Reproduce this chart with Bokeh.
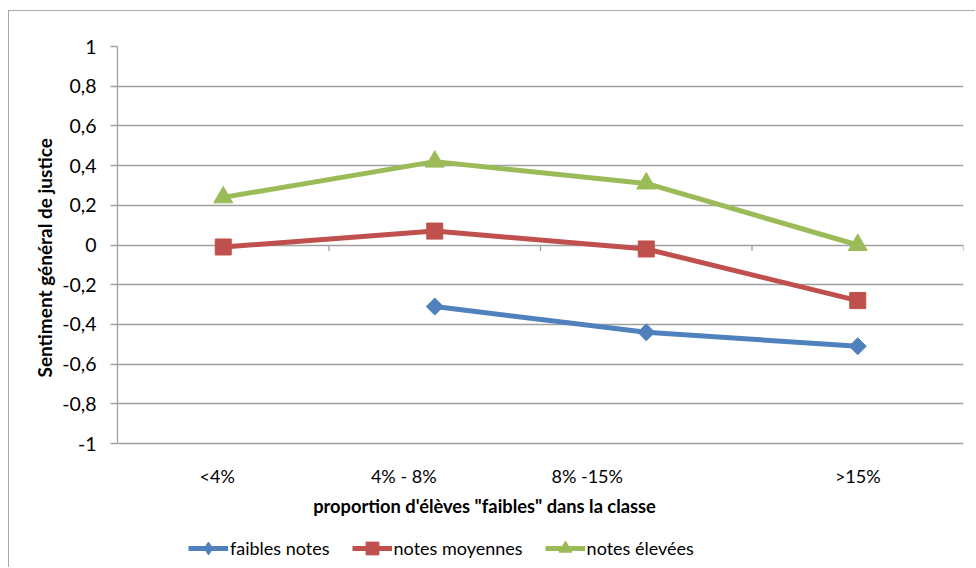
import math
from bokeh.plotting import figure
from bokeh.models import (Range1d, FixedTicker, Legend, LegendItem, LabelSet, Label,
                          ColumnDataSource, Title)
from bokeh.core.properties import value
from bokeh.embed import file_html
from bokeh.resources import INLINE

categories = ["<4%", "4% - 8%", "8% -15%", ">15%"]
faibles_notes = [float("nan"), -0.31, -0.44, -0.51]
notes_moyennes = [-0.01, 0.07, -0.02, -0.28]
notes_elevees = [0.24, 0.42, 0.31, 0.0]
y_ticks = [-1, -0.8, -0.6, -0.4, -0.2, 0, 0.2, 0.4, 0.6, 0.8, 1]
y_tick_labels = ["-1", "-0,8", "-0,6", "-0,4", "-0,2", "0", "0,2", "0,4", "0,6", "0,8", "1"]

FONT = "Lato"
GRAY = "#a0a0a0"
BLUE, RED, GREEN = "#4f81bd", "#c0504d", "#9bbb59"
FS = "19.5px"

# layout (pixels)
W, H = 967, 557
MB_LEFT, MB_TOP, MB_RIGHT = 108, 35, 13
VALUE_SPAN_PX = 397           # pixel height of the -1..1 value band
frame_h = H - MB_TOP
y_min, y_max = -1, 1
px_per_unit = VALUE_SPAN_PX / (y_max - y_min)
y_start = y_max - frame_h / px_per_unit

n = len(categories)
xs = [i + 0.5 for i in range(n)]

p = figure(width=W, height=H, output_backend="svg", toolbar_location=None,
           x_range=Range1d(0, n), y_range=Range1d(y_start, y_max),
           min_border_left=MB_LEFT, min_border_right=MB_RIGHT, min_border_top=MB_TOP,
           min_border_bottom=0,
           styles={"margin-left": "8px", "margin-top": "10px",
                   "border-left": "1px solid #a8a8a8", "border-top": "1px solid #a8a8a8"})
p.outline_line_color = None
p.xaxis.visible = False
p.xgrid.visible = False

p.yaxis.bounds = (y_min, y_max)
p.yaxis.ticker = FixedTicker(ticks=y_ticks)
p.yaxis.major_label_overrides = {t: l for t, l in zip(y_ticks, y_tick_labels)}
p.yaxis.major_tick_out = 7
p.yaxis.major_tick_in = 0
p.yaxis.minor_tick_line_color = None
p.yaxis.axis_line_color = GRAY
p.yaxis.axis_line_width = 1.3
p.yaxis.major_tick_line_color = GRAY
p.yaxis.major_tick_line_width = 1.3
p.yaxis.major_label_text_font = FONT
p.yaxis.major_label_text_font_size = FS
p.yaxis.major_label_text_color = "#000000"
p.yaxis.major_label_standoff = 14

# y-axis title, placed from the bottom of the value band
p.add_layout(Title(text="Sentiment général de justice", align="left", offset=191,
                   text_font=FONT, text_font_style="bold", text_font_size="19px",
                   text_color="#000000", standoff=7), "left")

p.ygrid.ticker = FixedTicker(ticks=y_ticks)
p.ygrid.grid_line_color = GRAY
p.ygrid.grid_line_width = 1.3

# category-boundary ticks on the zero line
bx = list(range(1, n + 1))
p.segment(x0=bx, y0=[0] * n, x1=bx, y1=[-6 / px_per_unit] * n, line_color=GRAY, line_width=1.3)

r_b_line = p.line(xs, faibles_notes, line_color=BLUE, line_width=5)
r_b_pt = p.scatter(xs, faibles_notes, marker="square", angle=math.pi / 4, size=12,
                   fill_color=BLUE, line_color=BLUE)
# legend-only diamond (no visible points)
r_b_leg = p.scatter(xs, [float("nan")] * n, marker="diamond", size=18,
                    fill_color=BLUE, line_color=BLUE)
r_r_line = p.line(xs, notes_moyennes, line_color=RED, line_width=5)
r_r_pt = p.scatter(xs, notes_moyennes, marker="square", size=16,
                   fill_color=RED, line_color=RED)
r_g_line = p.line(xs, notes_elevees, line_color=GREEN, line_width=5)
r_g_pt = p.scatter(xs, notes_elevees, marker="triangle", size=19,
                   fill_color=GREEN, line_color=GREEN)

# category labels (screen y measured up from the canvas bottom)
label_offsets = [-6, -31, -59, 0]
src = ColumnDataSource(dict(x=xs, y=[93] * n, text=categories, off=label_offsets))
p.add_layout(LabelSet(x="x", y="y", y_units="screen", text="text", x_offset="off", source=src,
                      text_align="center", text_baseline="middle", text_font=value(FONT),
                      text_font_size=value("18px"), text_color="#000000"))

p.add_layout(Label(x=367, y=63, x_units="screen", y_units="screen",
                   text="proportion d'élèves \"faibles\" dans la classe",
                   text_align="center", text_baseline="middle", text_font=FONT,
                   text_font_style="bold", text_font_size="18.3px", text_color="#000000"))

legend = Legend(items=[
    LegendItem(label="faibles notes", renderers=[r_b_line, r_b_leg]),
    LegendItem(label="notes moyennes", renderers=[r_r_line, r_r_pt]),
    LegendItem(label="notes élevées", renderers=[r_g_line, r_g_pt]),
], orientation="horizontal", location=(71, 4))
legend.border_line_color = None
legend.background_fill_alpha = 0
legend.padding = 0
legend.margin = 0
legend.spacing = 22
legend.glyph_width = 40
legend.glyph_height = 32
legend.label_standoff = 2
legend.label_text_font = FONT
legend.label_text_font_size = "18px"
legend.label_text_color = "#000000"
p.add_layout(legend, "center")

open("out.html", "w").write(file_html(p, INLINE))
